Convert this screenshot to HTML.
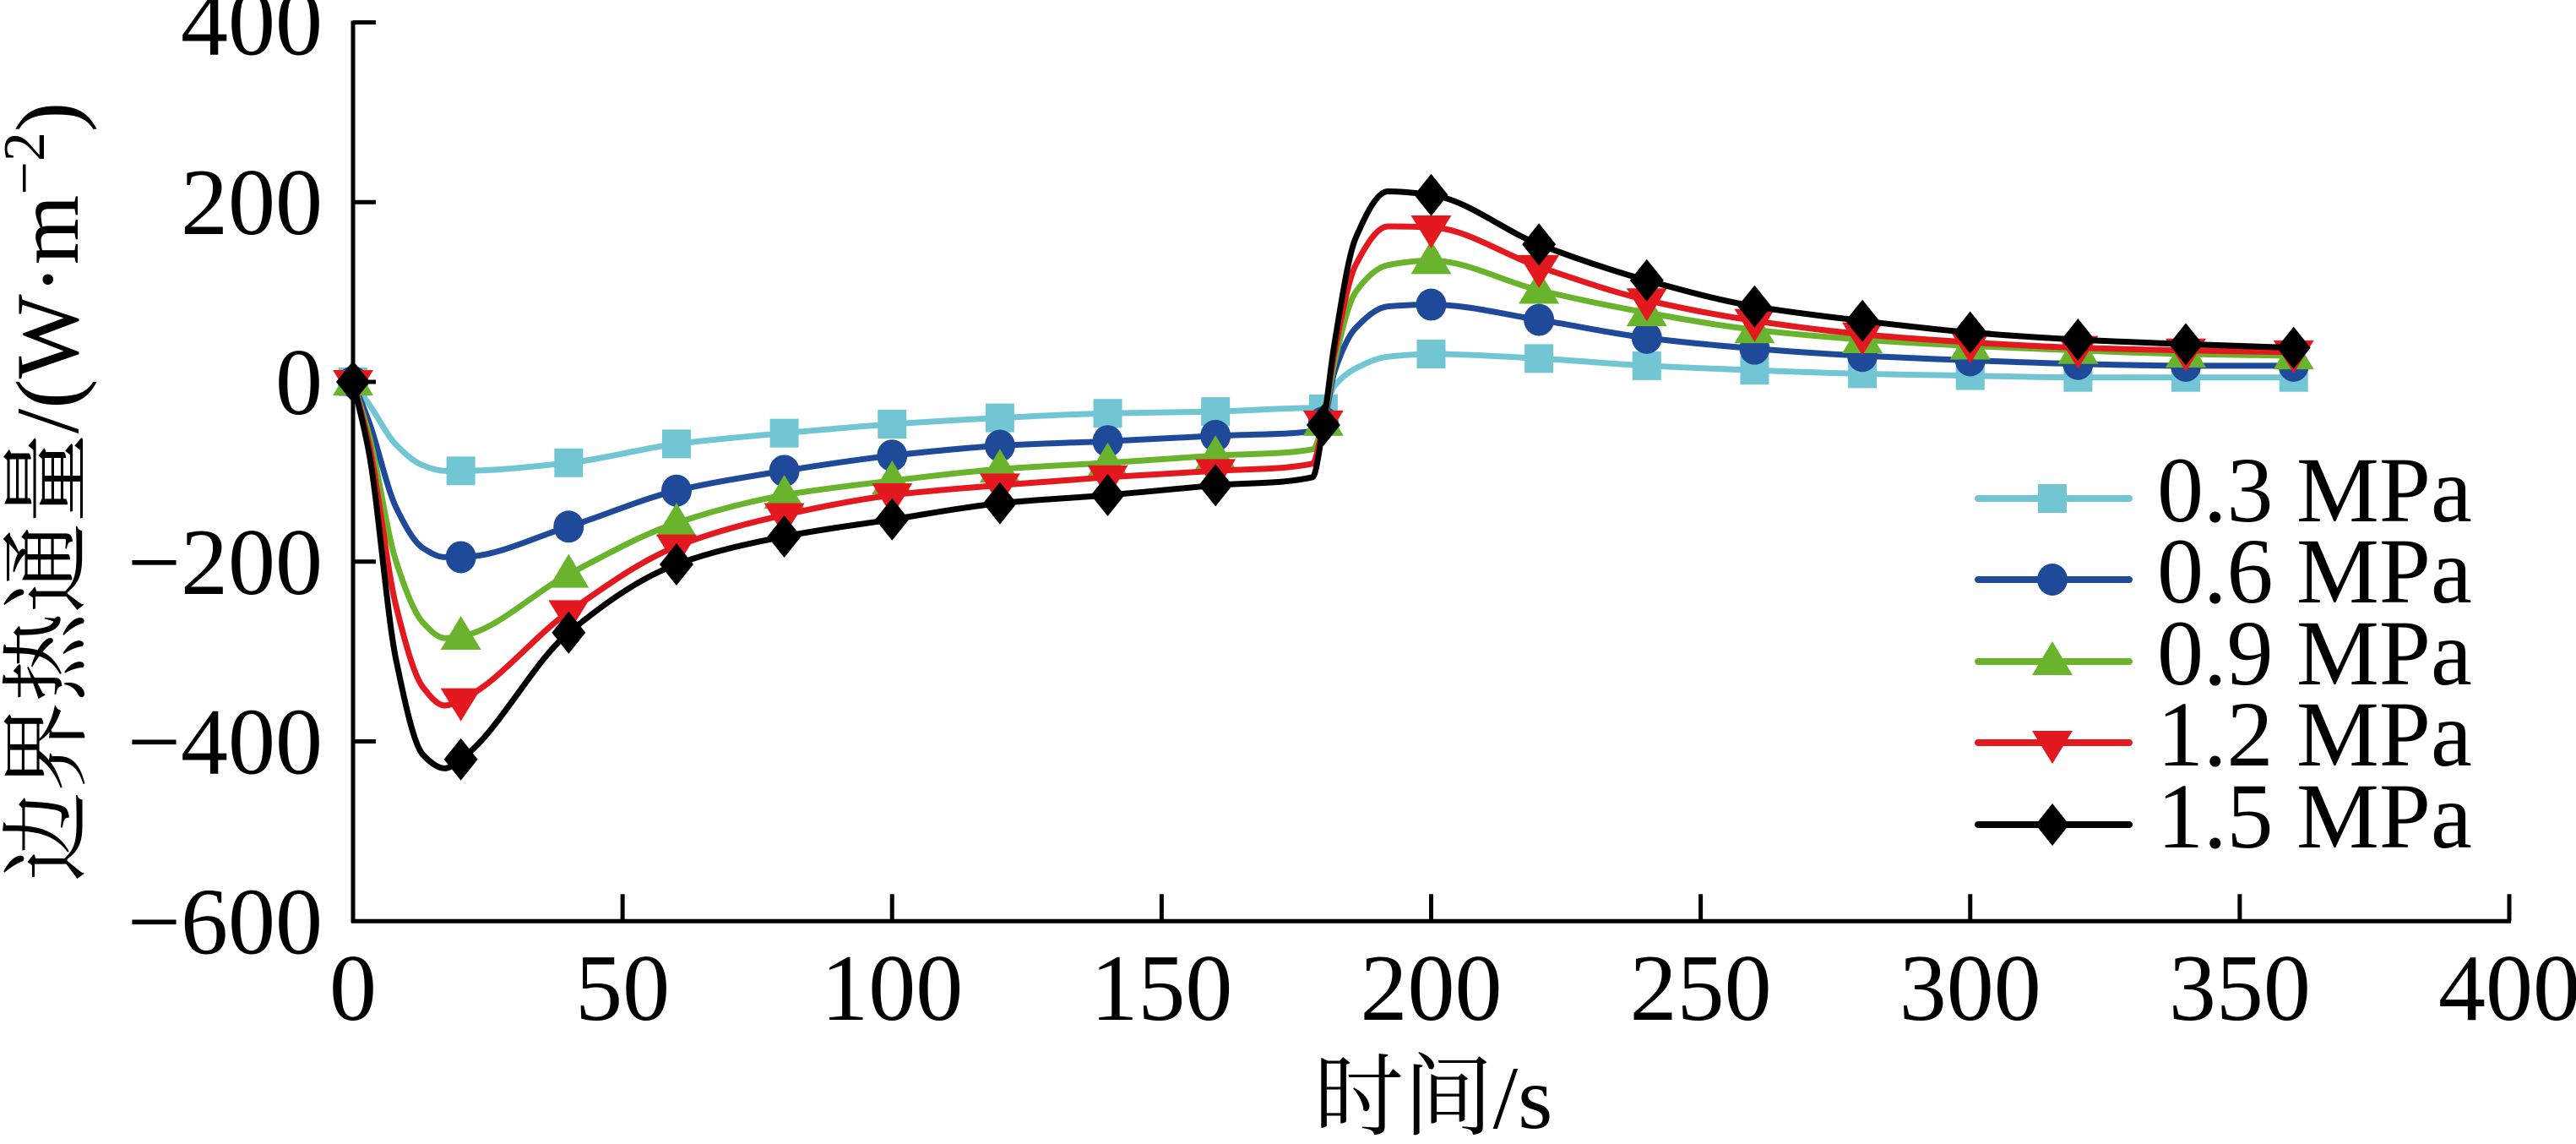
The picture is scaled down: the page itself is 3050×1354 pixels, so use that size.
<!DOCTYPE html>
<html><head><meta charset="utf-8">
<style>
html,body{margin:0;padding:0;background:#fff;}
svg{display:block;}
text{font-family:"Liberation Serif","Noto Serif CJK SC",serif;fill:#000;}
</style></head>
<body>
<svg id="chart" width="3050" height="1354" viewBox="0 0 3050 1354" xmlns="http://www.w3.org/2000/svg">
<g id="axes"></g>
<g id="series"></g>
<g id="legend"></g>
<text x="1697" y="1335" font-size="106" text-anchor="middle">时间/s</text>
<text transform="translate(92,582) rotate(-90)" font-size="106" text-anchor="middle">边界热通量/(W·m<tspan dy="-40" font-size="70">−2</tspan><tspan dy="40">)</tspan></text>
</svg>
<script>
const times = [0,3,8,13,17,20,40,60,80,100,120,140,160,178,180,182,186,192,200,220,240,260,280,300,320,340,360];
const markerTimes = [0,20,40,60,80,100,120,140,160,180,200,220,240,260,280,300,320,340,360];
const seriesNames = ["0.3 MPa","0.6 MPa","0.9 MPa","1.2 MPa","1.5 MPa"];
const s03 = [0,-25,-70,-93,-99,-99,-90,-69,-57,-47,-40,-35,-33,-29,-30,-5,15,28,31,26,18,13,9,7,5,5,5];
const s06 = [0,-45,-140,-185,-195,-195,-161,-121,-99,-82,-71,-66,-60,-55,-45,10,60,84,86,69,49,37,29,24,20,18,18];
const s09 = [0,-60,-200,-268,-285,-283,-214,-157,-126,-110,-97,-90,-82,-75,-45,20,100,130,135,102,77,58,47,40,35,31,29];
const s12 = [0,-70,-250,-340,-360,-354,-256,-183,-148,-126,-115,-106,-99,-91,-45,30,130,173,172,128,91,68,53,44,38,35,33];
const s15 = [0,-80,-310,-415,-430,-420,-279,-203,-172,-153,-135,-126,-115,-106,-48,40,160,212,208,153,113,84,68,55,47,42,38];
const xTicks = [0,50,100,150,200,250,300,350,400];
const yTicks = [400,200,0,-200,-400,-600];

const NS="http://www.w3.org/2000/svg";
const X0=418, X1=2971, Y0=452, YS=1.0638;
function xs(t){return X0+(t/400)*(X1-X0);}
function ys(v){return Y0-v*YS;}
function mk(tag,attrs,parent){const e=document.createElementNS(NS,tag);for(const k in attrs)e.setAttribute(k,attrs[k]);parent.appendChild(e);return e;}

const axes=document.getElementById('axes');
let a=mk('line',{x1:X0,y1:ys(400)-2,x2:X0,y2:ys(-600)+2,stroke:'#000','stroke-width':5},axes);


a=mk('line',{x1:X0-2,y1:ys(-600),x2:X1+2,y2:ys(-600),stroke:'#000','stroke-width':5},axes);


yTicks.forEach(v=>{
  if(v!==-600){const l=mk('line',{x1:X0,y1:ys(v),x2:X0+27,y2:ys(v),stroke:'#000','stroke-width':5},axes);
  
  }
  const t=mk('text',{x:382,y:ys(v)+38,'font-size':112,'text-anchor':'end'},axes);
  t.textContent=(v<0?'\u2212':'')+Math.abs(v);
  
  
});
xTicks.forEach(v=>{
  if(v!==0){const l=mk('line',{x1:xs(v),y1:ys(-600),x2:xs(v),y2:ys(-600)-32,stroke:'#000','stroke-width':5},axes);
  
  }
  const t=mk('text',{x:xs(v),y:1207,'font-size':112,'text-anchor':'middle'},axes);
  t.textContent=String(v);
  
  
});

function monotonePath(xa,ya){
  const n=xa.length,d=[],m=new Array(n);
  for(let i=0;i<n-1;i++)d.push((ya[i+1]-ya[i])/(xa[i+1]-xa[i]));
  m[0]=d[0];m[n-1]=d[n-2];
  for(let i=1;i<n-1;i++){ if(d[i-1]*d[i]<=0)m[i]=0; else{const h0=xa[i]-xa[i-1],h1=xa[i+1]-xa[i];const w1=2*h1+h0,w2=h1+2*h0;m[i]=(w1+w2)/(w1/d[i-1]+w2/d[i]);}}
  let p='M'+xa[0].toFixed(1)+','+ya[0].toFixed(1);
  for(let i=0;i<n-1;i++){const h=(xa[i+1]-xa[i])/3;
    p+=' C'+(xa[i]+h).toFixed(1)+','+(ya[i]+m[i]*h).toFixed(1)+' '+(xa[i+1]-h).toFixed(1)+','+(ya[i+1]-m[i+1]*h).toFixed(1)+' '+xa[i+1].toFixed(1)+','+ya[i+1].toFixed(1);}
  return p;
}
function marker(type,cx,cy,color,parent){
  let e;
  if(type==='square')e=mk('rect',{x:cx-17,y:cy-17,width:34,height:34,fill:color},parent);
  else if(type==='circle')e=mk('ellipse',{cx:cx,cy:cy,rx:18,ry:19,fill:color},parent);
  else if(type==='up')e=mk('polygon',{points:`${cx},${cy-24} ${cx+24},${cy+16} ${cx-24},${cy+16}`,fill:color},parent);
  else if(type==='down')e=mk('polygon',{points:`${cx},${cy+25} ${cx+24},${cy-14} ${cx-24},${cy-14}`,fill:color},parent);
  else e=mk('polygon',{points:`${cx},${cy-25} ${cx+20},${cy} ${cx},${cy+25} ${cx-20},${cy}`,fill:color},parent);
  return e;
}
const allSeries=[s03,s06,s09,s12,s15];
const colors=['#72c6d4','#1f4a9a','#6ab42d','#e3191f','#000000'];
const types=['square','circle','up','down','diamond'];
const keys=['0-3','0-6','0-9','1-2','1-5'];
const sg=document.getElementById('series');
allSeries.forEach((vals,si)=>{
  const g=mk('g',{},sg);
  
  
  const path=mk('path',{d:monotonePath(times.map(xs),vals.map(ys)),fill:'none',stroke:colors[si],'stroke-width':7,'stroke-linejoin':'round','stroke-linecap':'round'},g);
  
  
  markerTimes.forEach(t=>{
    const i=times.indexOf(t);
    const m=marker(types[si],xs(t),ys(vals[i]),colors[si],g);
    
    
  });
});
const lg=document.getElementById('legend');
const rowY=[590,686,783,879,976];
seriesNames.forEach((nm,si)=>{
  const g=mk('g',{},lg);
  
  
  mk('line',{x1:2342,y1:rowY[si],x2:2521,y2:rowY[si],stroke:colors[si],'stroke-width':8,'stroke-linecap':'round'},g);
  marker(types[si],2430,rowY[si],colors[si],g);
  const t=mk('text',{x:2554,y:rowY[si]+27,'font-size':110},g);
  t.textContent=nm;
});
</script>
</body></html>
